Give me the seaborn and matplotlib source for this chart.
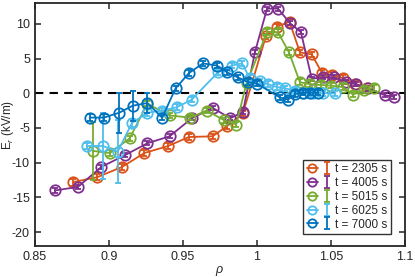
import matplotlib
matplotlib.use("Agg")

import matplotlib.pyplot as plt
import numpy as np
import pandas as pd
import seaborn as sns
from matplotlib.legend_handler import HandlerTuple
from matplotlib.lines import Line2D

# ---- data ------------------------------------------------------------------
times = ["t = 2305 s", "t = 4005 s", "t = 5015 s", "t = 6025 s", "t = 7000 s"]
colors = ["#D95319", "#7E2F8E", "#77AC30", "#4DBEEE", "#0072BD"]

rho_2305 = [0.8757, 0.892, 0.909, 0.924, 0.940, 0.954, 0.970, 0.980, 0.9905,
            1.006, 1.0135, 1.022, 1.029, 1.037, 1.044, 1.051, 1.058, 1.066, 1.074]
er_2305 = [-12.8, -12.1, -10.6, -8.6, -7.6, -6.3, -6.2, -4.7, -2.9,
           8.2, 9.6, 10.3, 5.9, 5.6, 2.9, 2.6, 2.2, 1.4, 0.7]
err_2305 = [0.5, 0.4, 0.4, 0.4, 0.4, 0.4, 0.4, 0.4, 0.4,
            0.4, 0.4, 0.4, 0.4, 0.4, 0.4, 0.4, 0.4, 0.4, 0.4]

rho_4005 = [0.8635, 0.879, 0.895, 0.911, 0.926, 0.941, 0.956, 0.970, 0.982, 0.9905,
            0.9986, 1.0068, 1.0142, 1.0223, 1.0297, 1.037, 1.0446, 1.052, 1.060,
            1.067, 1.075, 1.0865, 1.0926]
er_4005 = [-14.0, -13.5, -10.6, -8.9, -7.2, -6.2, -3.6, -2.1, -3.6, -2.7,
           5.9, 12.2, 12.2, 10.1, 8.8, 2.1, 2.3, 2.3, 1.6,
           1.3, 0.7, -0.3, -0.5]
err_4005 = [0.3] * len(rho_4005)

rho_5015 = [0.889, 0.9007, 0.914, 0.926, 0.941, 0.955, 0.966, 0.978, 0.986, 0.993,
            1.0068, 1.0142, 1.0216, 1.029, 1.036, 1.043, 1.050, 1.058, 1.065,
            1.072, 1.079]
er_5015 = [-8.3, -8.6, -6.5, -1.5, -3.2, -3.5, -2.5, -3.9, -4.5, 1.5,
           8.8, 8.8, 5.9, 1.6, 1.3, 1.2, 1.1, 0.9, -0.2,
           0.5, 0.8]
err_5015 = [4.2, 0.4, 0.4, 0.4, 0.4, 0.4, 0.4, 0.4, 0.4, 0.4,
            0.4, 0.4, 0.4, 0.4, 0.4, 0.4, 0.4, 0.4, 0.4,
            0.4, 0.4]

rho_6025 = [0.885, 0.896, 0.906, 0.9155, 0.926, 0.936, 0.946, 0.956, 0.9736,
            0.983, 0.990, 0.995, 1.002, 1.0074, 1.0135, 1.019, 1.026, 1.031,
            1.038, 1.0446, 1.053]
er_6025 = [-7.6, -7.6, -8.4, -4.3, -2.8, -2.5, -2.0, -0.9, 3.0,
           4.0, 4.3, 2.2, 1.7, 1.3, 0.9, 0.7, 0.4, 0.1,
           0.0, 0.0, 0.0]
err_6025 = [0.5, 4.8, 4.5, 0.6, 0.5, 0.4, 0.4, 0.4, 0.4,
            0.4, 0.4, 0.4, 0.4, 0.4, 0.4, 0.4, 0.4, 0.4,
            0.4, 0.4, 0.4]

rho_7000 = [0.887, 0.8966, 0.907, 0.916, 0.926, 0.936, 0.945, 0.954, 0.9635,
            0.973, 0.980, 0.987, 0.994, 1.0, 1.0155, 1.021, 1.026, 1.031,
            1.036, 1.041]
er_7000 = [-3.5, -3.5, -2.8, -1.8, -1.4, -3.5, 0.7, 2.9, 4.3,
           4.0, 3.0, 2.3, 1.6, 1.4, -0.6, -0.9, -0.1, 0.1,
           0.1, 0.1]
err_7000 = [0.5, 0.5, 2.9, 2.2, 1.5, 0.4, 0.4, 0.4, 0.4,
            0.4, 0.4, 0.4, 0.4, 0.4, 0.4, 0.4, 0.4, 0.4,
            0.4, 0.4]

series = [
    (rho_2305, er_2305, err_2305),
    (rho_4005, er_4005, err_4005),
    (rho_5015, er_5015, err_5015),
    (rho_6025, er_6025, err_6025),
    (rho_7000, er_7000, err_7000),
]

frames = []
for label, (r, e, s) in zip(times, series):
    frames.append(pd.DataFrame({"rho": r, "Er": e, "err": s, "t": label}))
df = pd.concat(frames, ignore_index=True)

# ---- plot -------------------------------------------------------------------
sns.set_style("ticks")
plt.rcParams["font.family"] = ["Liberation Sans", "DejaVu Sans"]
plt.rcParams["mathtext.fontset"] = "custom"
plt.rcParams["mathtext.rm"] = "Liberation Sans"
plt.rcParams["mathtext.it"] = "Liberation Sans:italic"

fig = plt.figure(figsize=(4.15, 2.77), dpi=100)
ax = fig.add_axes([0.084, 0.112, 0.892, 0.877])

ax.axhline(0, color="black", linestyle=(0, (4, 3)), linewidth=1.5, zorder=1)

handles = []
for label, color in zip(times, colors):
    sub = df[df["t"] == label]
    sns.lineplot(data=sub, x="rho", y="Er", sort=False, color=color,
                 marker="o", markersize=7.5, markerfacecolor="none",
                 markeredgecolor=color, markeredgewidth=1.3, linewidth=1.3,
                 legend=False, ax=ax, zorder=3)
    ec = ax.errorbar(sub["rho"], sub["Er"], yerr=sub["err"], fmt="none",
                     ecolor=color, elinewidth=1.3, capsize=2, capthick=1.3,
                     zorder=3)
    proxy = Line2D([], [], color=color, marker="o", markersize=6,
                   markerfacecolor="none", markeredgewidth=1.3, linewidth=1.3)
    handles.append((proxy, ec))

ax.set_xlim(0.85, 1.1)
ax.set_ylim(-22, 13)
ax.set_xticks([0.85, 0.9, 0.95, 1.0, 1.05, 1.1])
ax.set_xticklabels(["0.85", "0.9", "0.95", "1", "1.05", "1.1"])
ax.set_yticks([-20, -15, -10, -5, 0, 5, 10])
ax.set_yticklabels(["-20", "-15", "-10", "-5", "0", "5", "10"])
ax.tick_params(direction="in", length=4, width=1.1, labelsize=9,
               top=True, right=True, colors="#262626", labelcolor="#262626")
for sp in ax.spines.values():
    sp.set_linewidth(1.3)
    sp.set_color("#262626")

ax.set_xlabel(r"$\it{\rho}$", fontsize=9, labelpad=1)
ax.set_ylabel(r"E$_r$ (kV/m)", fontsize=8.5)
ax.yaxis.set_label_coords(-0.052, 0.5)

leg = ax.legend(handles, times, loc="lower right",
                bbox_to_anchor=(0.962, 0.049), borderaxespad=0,
                handler_map={tuple: HandlerTuple(ndivide=None)},
                fontsize=8.5, frameon=True, fancybox=False,
                handlelength=2.2, handletextpad=0.2, labelspacing=0.15,
                borderpad=0.3)
leg.get_frame().set_edgecolor("black")
leg.get_frame().set_linewidth(1.0)

fig.savefig("out.png", dpi=100)
